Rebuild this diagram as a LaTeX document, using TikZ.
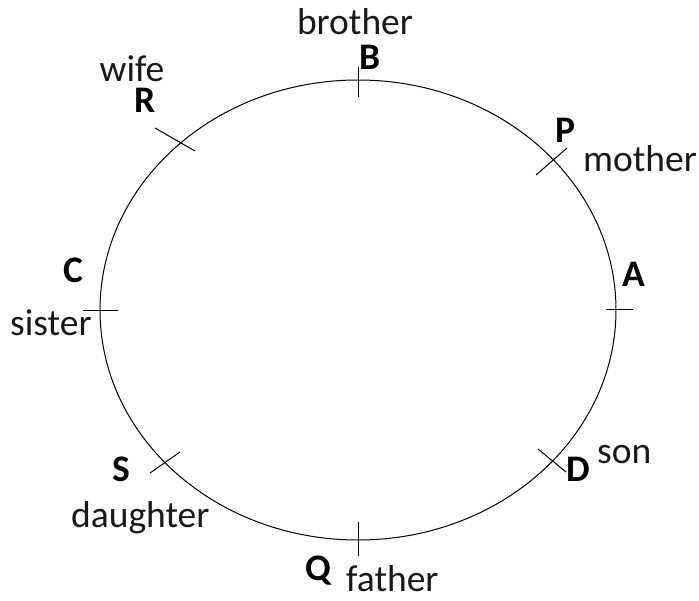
\documentclass[tikz,border=0pt]{standalone}
\usepackage{fontspec}
\setmainfont{Carlito}
\usetikzlibrary{shapes.geometric}
\begin{document}
\begin{tikzpicture}[x=1pt,y=-1pt,
  lbl/.style={font=\fontsize{37.5}{40}\selectfont, inner sep=0pt, text=black!90},
  let/.style={font=\fontsize{37.5}{40}\selectfont\bfseries, inner sep=0pt},
  tick/.style={line width=1pt}]
\useasboundingbox (0,0) rectangle (699,601);
\node[draw, ellipse, line width=1pt, minimum width=516pt, minimum height=460pt, inner sep=0pt] (E) at (358,310) {};
% ticks
\coordinate (pB) at (358,81);
\coordinate (pA) at (616,310);
\coordinate (pC) at (100,311);
\coordinate (pQ) at (358,540);
\coordinate (pP) at (552,161);
\coordinate (pD) at (552,461);
\coordinate (pS) at (165,462);
\coordinate (pR) at (182,144);
\draw[tick] ([yshift=-16]pB) -- ([yshift=14]pB);
\draw[tick] ([xshift=-10]pA) -- ([xshift=17]pA);
\draw[tick] ([xshift=-17]pC) -- ([xshift=18]pC);
\draw[tick] ([yshift=-16]pQ) -- ([yshift=18]pQ);
\draw[tick] ([shift={(-16,14)}]pP) -- ([shift={(15,-13)}]pP);
\draw[tick] ([shift={(-14,-12)}]pD) -- ([shift={(14,11)}]pD);
\draw[tick] ([shift={(-15,11)}]pS) -- ([shift={(15,-10)}]pS);
\draw[tick] ([shift={(-27,-16)}]pR) -- ([shift={(13,7)}]pR);
% labels
\node[lbl, anchor=base] (tbrother) at (355,35) {brother};
\node[let, anchor=base] (lB) at (370,70) {B};
\node[lbl, anchor=base] (twife) at (132,82) {wife};
\node[let, anchor=base] (lR) at (145,113) {R};
\node[let, anchor=base] (lP) at (565,143) {P};
\node[lbl, anchor=base west] (tmother) at (583,172) {mother};
\node[let, anchor=base] (lC) at (73,283) {C};
\node[lbl, anchor=base west] (tsister) at (10,336) {sister};
\node[let, anchor=base] (lA) at (634,287) {A};
\node[let, anchor=base] (lS) at (121,482) {S};
\node[lbl, anchor=base west] (tdaughter) at (71,527) {daughter};
\node[let, anchor=base] (lD) at (578,482) {D};
\node[lbl, anchor=base west] (tson) at (597,464) {son};
\node[let, anchor=base] (lQ) at (318,580) {Q};
\node[lbl, anchor=base west] (tfather) at (346,591) {father};
\end{tikzpicture}
\end{document}
